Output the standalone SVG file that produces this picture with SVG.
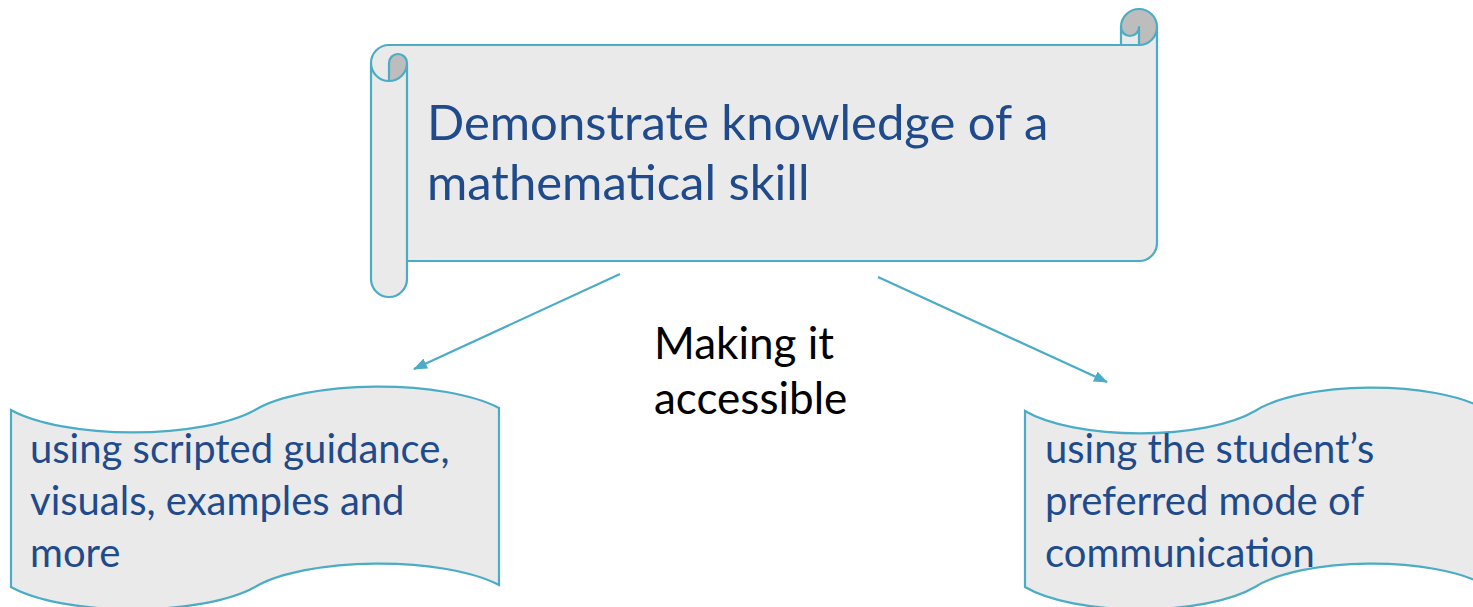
<svg xmlns="http://www.w3.org/2000/svg" width="1473" height="607" viewBox="0 0 1473 607">
<defs>
<style>
.shape{fill:#EAEAEA;stroke:none}
.dark{fill:#BDBDBD;stroke:none}
.line{fill:none;stroke:#4BACC6;stroke-width:2.2;stroke-linejoin:round}
.wave{fill:#EAEAEA;stroke:#4BACC6;stroke-width:2.2}
.blue{font-family:Lato,"Liberation Sans",sans-serif;fill:#1F4A8B}
.black{font-family:Lato,"Liberation Sans",sans-serif;fill:#000}
.conn{fill:none;stroke:#4BACC6;stroke-width:2.2}
</style>
<marker id="arr" viewBox="0 0 14 11" refX="13" refY="5.5" markerWidth="14" markerHeight="11" markerUnits="userSpaceOnUse" orient="auto">
<path d="M0,0 L14,5.5 L0,11 Z" fill="#4BACC6"/>
</marker>
</defs>
<rect width="1473" height="607" fill="#FFFFFF"/>
<g id="scroll">
<path class="shape" d="M1157,27 A18,18 0 0 1 1139,45 L1139,27 A9,9 0 0 1 1121,27 L1121,45 L389,45 A18,18 0 0 0 371,63 L371,279 A18,18 0 0 0 407,279 L407,261 L1139,261 A18,18 0 0 0 1157,243 Z M389,81 A18,18 0 0 0 407,63 A9,9 0 0 0 389,63 Z"/>
<path class="dark" d="M389,81 A18,18 0 0 0 407,63 A9,9 0 0 0 389,63 Z M1139,45 A18,18 0 1 0 1121,27 A9,9 0 0 0 1139,27 Z"/>
<path class="line" d="M371,63 A18,18 0 0 1 389,45 L1121,45 L1121,27 A18,18 0 0 1 1157,27 L1157,243 A18,18 0 0 1 1139,261 L407,261 L407,279 A18,18 0 0 1 371,279 Z M1121,45 L1139,45 A18,18 0 0 0 1157,27 M1139,45 L1139,27 A9,9 0 0 1 1121,27 M389,81 L389,63 A9,9 0 0 1 407,63 A18,18 0 0 1 371,63 M407,63 L407,261"/>
<text class="blue" font-size="49"><tspan x="427" y="140">Demonstrate knowledge of a</tspan><tspan x="427" y="200">mathematical skill</tspan></text>
</g>
<g id="label">
<text class="black" font-size="44"><tspan x="654" y="359">Making it</tspan><tspan x="654" y="414">accessible</tspan></text>
</g>
<g id="left-wave">
<path class="wave" d="M11,410 A140,44 0 0 0 255,410 A140,44 0 0 1 499,408 L499,585 A140,44 0 0 0 255,587 A140,44 0 0 1 11,587 Z"/>
<text class="blue" font-size="40"><tspan x="30" y="463">using scripted guidance,</tspan><tspan x="30" y="515">visuals, examples and</tspan><tspan x="30" y="567">more</tspan></text>
</g>
<g id="right-wave">
<path class="wave" d="M1025,411 A132,44 0 0 0 1255,411 A132,44 0 0 1 1485,409 L1485,585 A132,44 0 0 0 1255,587 A132,44 0 0 1 1025,587 Z"/>
<text class="blue" font-size="40"><tspan x="1045" y="463">using the student’s</tspan><tspan x="1045" y="515">preferred mode of</tspan><tspan x="1045" y="567">communication</tspan></text>
</g>
<g id="connectors">
<line class="conn" x1="620" y1="274" x2="414" y2="369" marker-end="url(#arr)"/>
<line class="conn" x1="878" y1="277" x2="1107" y2="382" marker-end="url(#arr)"/>
</g>
</svg>
